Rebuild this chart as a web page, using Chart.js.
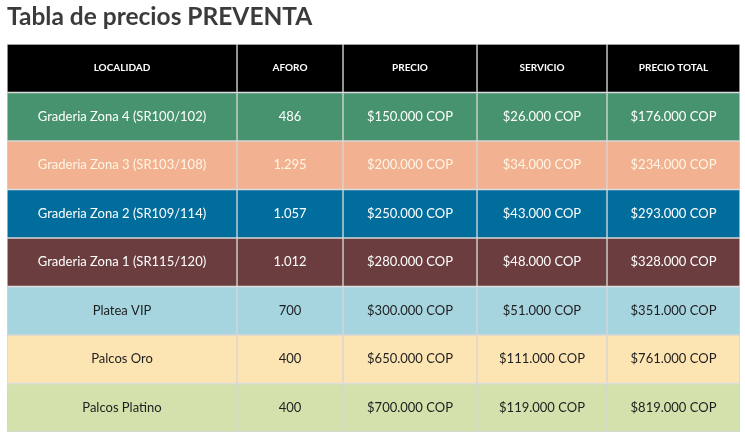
<!DOCTYPE html>
<html lang="es">
<head>
<meta charset="UTF-8">
<title>Tabla de precios PREVENTA</title>
<script src="https://cdn.jsdelivr.net/npm/chart.js"></script>
<style>
  html, body { margin: 0; padding: 0; background: #fff; }
  #wrap { width: 745px; height: 435px; }
</style>
</head>
<body>
<div id="wrap"><canvas id="tabla"></canvas></div>
<script>
// table contents
const headers = ['LOCALIDAD', 'AFORO', 'PRECIO', 'SERVICIO', 'PRECIO TOTAL'];
const localidades = [
  'Graderia Zona 4 (SR100/102)',
  'Graderia Zona 3 (SR103/108)',
  'Graderia Zona 2 (SR109/114)',
  'Graderia Zona 1 (SR115/120)',
  'Platea VIP',
  'Palcos Oro',
  'Palcos Platino'
];
const aforo = ['486', '1.295', '1.057', '1.012', '700', '400', '400'];
const precio = ['$150.000 COP', '$200.000 COP', '$250.000 COP', '$280.000 COP', '$300.000 COP', '$650.000 COP', '$700.000 COP'];
const servicio = ['$26.000 COP', '$34.000 COP', '$43.000 COP', '$48.000 COP', '$51.000 COP', '$111.000 COP', '$119.000 COP'];
const precioTotal = ['$176.000 COP', '$234.000 COP', '$293.000 COP', '$328.000 COP', '$351.000 COP', '$761.000 COP', '$819.000 COP'];

// layout / style
const colWidths = [230, 106, 134, 130, 133];
const headerBg = '#000000';
const rowBg = ['#48936f', '#f2b190', '#006d9c', '#6b3d3f', '#a6d5e0', '#fde5b3', '#d3e2ac'];
const rowText = ['#ffffff', '#fff6e6', '#ffffff', '#ffffff', '#1e1e1e', '#1e1e1e', '#1e1e1e'];
const FONT = "'Lato', 'Open Sans', sans-serif";

const columns = [localidades, aforo, precio, servicio, precioTotal];
const rowKeys = ['header'].concat(localidades);
const bgColors = [headerBg].concat(rowBg);

const datasets = columns.map((col, c) => ({
  label: headers[c],
  data: rowKeys.map(() => colWidths[c]),
  backgroundColor: bgColors,
  borderColor: '#d6d6d6',
  borderWidth: 1,
  borderSkipped: false,
  barPercentage: 1,
  categoryPercentage: 1,
  stack: 'tabla'
}));

// writes the cell texts at the centre of every bar
const cellText = {
  id: 'cellText',
  afterDatasetsDraw(chart) {
    const ctx = chart.ctx;
    ctx.save();
    ctx.textAlign = 'center';
    ctx.textBaseline = 'middle';
    chart.data.datasets.forEach((ds, c) => {
      const meta = chart.getDatasetMeta(c);
      meta.data.forEach((bar, r) => {
        const p = bar.getProps(['x', 'y', 'base'], true);
        const cx = (p.x + p.base) / 2;
        if (r === 0) {
          ctx.font = 'bold 10px ' + FONT;
          ctx.fillStyle = '#ffffff';
          ctx.fillText(headers[c], cx, p.y);
        } else {
          ctx.font = '13px ' + FONT;
          ctx.fillStyle = rowText[r - 1];
          ctx.fillText(columns[c][r - 1], cx, p.y);
        }
      });
    });
    ctx.restore();
  }
};

new Chart(document.getElementById('tabla'), {
  type: 'bar',
  data: { labels: rowKeys, datasets: datasets },
  options: {
    indexAxis: 'y',
    responsive: true,
    maintainAspectRatio: false,
    animation: false,
    layout: { padding: { left: 7, right: 5, top: 0, bottom: 3 } },
    scales: {
      x: { stacked: true, min: 0, max: colWidths.reduce((a, b) => a + b, 0), display: false },
      y: { stacked: true, display: false }
    },
    plugins: {
      legend: { display: false },
      tooltip: { enabled: false },
      title: {
        display: true,
        text: 'Tabla de precios PREVENTA',
        align: 'start',
        color: '#3b3b3b',
        font: { family: FONT, size: 24.5, weight: 'bold', lineHeight: 1.2 },
        padding: { top: 2, bottom: 12.6 }
      }
    }
  },
  plugins: [cellText]
});
</script>
</body>
</html>
